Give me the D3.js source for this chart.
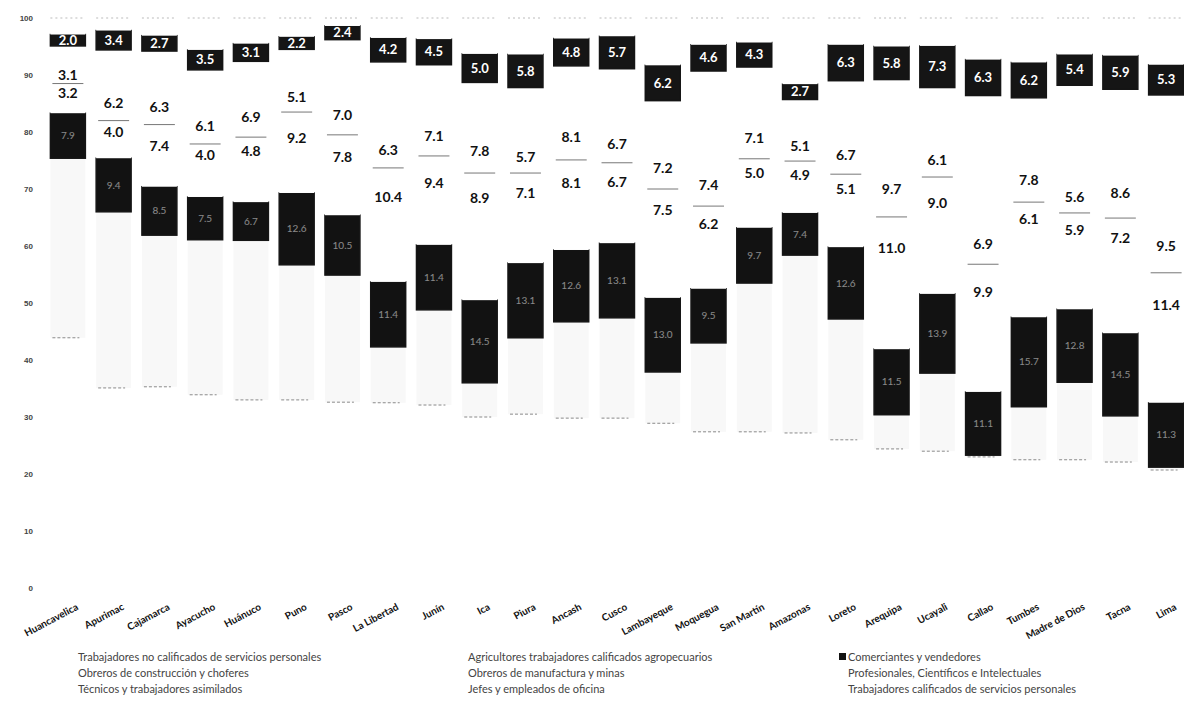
<!DOCTYPE html>
<html>
<head>
<meta charset="utf-8">
<script src="https://cdn.jsdelivr.net/npm/d3@7"></script>
<style>
  body { margin: 0; background: #fff; }
  svg { display: block; font-family: Lato, "Open Sans", sans-serif; }
</style>
</head>
<body>
<div id="chart"></div>
<script>
// regions, ordered as in the picture
const regions = ['Huancavelica', 'Apurimac', 'Cajamarca', 'Ayacucho', 'Huánuco', 'Puno', 'Pasco',
  'La Libertad', 'Junín', 'Ica', 'Piura', 'Ancash', 'Cusco', 'Lambayeque', 'Moquegua', 'San Martín',
  'Amazonas', 'Loreto', 'Arequipa', 'Ucayali', 'Callao', 'Tumbes', 'Madre de Dios', 'Tacna', 'Lima'];

// shares (%) per occupational group, bottom to top of each bar
const noCalificados = [43.9, 35.1, 35.3, 33.9, 33.0, 33.0, 32.6, 32.5, 32.1, 30.0, 30.5, 29.8, 29.8, 28.9, 27.4, 27.4, 27.2, 26.0, 24.4, 24.0, 23.0, 22.5, 22.5, 22.1, 20.7];
const agricultores = [31.5, 30.9, 26.6, 27.2, 28.0, 23.7, 22.3, 9.8, 16.7, 6.0, 13.4, 16.9, 17.6, 9.0, 15.6, 26.1, 31.2, 21.2, 6.0, 13.7, 0.3, 9.3, 13.6, 8.1, 0.5];
const comerciantes = [7.9, 9.4, 8.5, 7.5, 6.7, 12.6, 10.5, 11.4, 11.4, 14.5, 13.1, 12.6, 13.1, 13.0, 9.5, 9.7, 7.4, 12.6, 11.5, 13.9, 11.1, 15.7, 12.8, 14.5, 11.3];
const obrerosConstruccion = [2.0, 2.6, 3.5, 5.3, 6.6, 5.0, 6.3, 9.6, 6.2, 13.4, 8.7, 7.7, 7.4, 11.6, 8.3, 7.1, 4.2, 7.7, 12.2, 11.5, 12.5, 14.1, 11.0, 13.0, 11.4];
const profesionales = [3.2, 4.0, 7.4, 4.0, 4.8, 9.2, 7.8, 10.4, 9.4, 8.9, 7.1, 8.1, 6.7, 7.5, 6.2, 5.0, 4.9, 5.1, 11.0, 9.0, 9.9, 6.1, 5.9, 7.2, 11.4];
const tecnicos = [3.1, 6.2, 6.3, 6.1, 6.9, 5.1, 7.0, 6.3, 7.1, 7.8, 5.7, 8.1, 6.7, 7.2, 7.4, 7.1, 5.1, 6.7, 9.7, 6.1, 6.9, 7.8, 5.6, 8.6, 9.5];
const obrerosManufactura = [3.5, 6.2, 6.6, 6.9, 6.4, 5.9, 9.7, 12.3, 8.9, 8.1, 9.3, 8.4, 9.8, 8.3, 16.3, 9.0, 5.7, 9.7, 14.4, 9.6, 22.7, 10.5, 16.8, 14.0, 21.7];
const jefes = [2.0, 3.4, 2.7, 3.5, 3.1, 2.2, 2.4, 4.2, 4.5, 5.0, 5.8, 4.8, 5.7, 6.2, 4.6, 4.3, 2.7, 6.3, 5.8, 7.3, 6.3, 6.2, 5.4, 5.9, 5.3];
const trabCalificados = [2.9, 2.2, 3.1, 5.6, 4.5, 3.3, 1.4, 3.5, 3.7, 6.3, 6.4, 3.6, 3.2, 8.3, 4.7, 4.3, 11.6, 4.7, 5.0, 4.9, 7.3, 7.8, 6.4, 6.6, 8.2];

const yTicks = [0, 10, 20, 30, 40, 50, 60, 70, 80, 90, 100];

// legend text, in the three columns of the picture
const legendCols = [
  ['Trabajadores no calificados de servicios personales', 'Obreros de construcción y choferes', 'Técnicos y trabajadores asimilados'],
  ['Agricultores trabajadores calificados agropecuarios', 'Obreros de manufactura y minas', 'Jefes y empleados de oficina'],
  ['Comerciantes y vendedores', 'Profesionales, Científicos e Intelectuales', 'Trabajadores calificados de servicios personales']
];

const keys = ['noCalificados', 'agricultores', 'comerciantes', 'obrerosConstruccion', 'profesionales',
  'tecnicos', 'obrerosManufactura', 'jefes', 'trabCalificados'];
const seriesData = {noCalificados, agricultores, comerciantes, obrerosConstruccion, profesionales,
  tecnicos, obrerosManufactura, jefes, trabCalificados};

const rows = regions.map((r, i) => {
  let o = {region: r};
  keys.forEach(k => { o[k] = seriesData[k][i]; });
  return o;
});

const W = 1184, H = 727;

let xScale = d3.scaleBand()
  .domain(regions)
  .range([45, 1189])
  .paddingInner(0.236)
  .paddingOuter(0.118);

let yScale = d3.scaleLinear()
  .domain([0, 100])
  .range([588, 18]);

let colorScale = d3.scaleOrdinal()
  .domain(keys)
  .range(['#ffffff', '#f8f8f8', '#121212', '#ffffff', '#ffffff', '#ffffff', '#ffffff', '#151515', '#ffffff']);

const stacked = d3.stack().keys(keys)(rows);

let svg = d3.select('#chart').append('svg')
  .attr('width', W)
  .attr('height', H);

svg.append('rect').attr('width', W).attr('height', H).attr('fill', '#fff');

// y axis: labels only
let yAxis = svg.append('g')
  .attr('transform', 'translate(37,0)')
  .call(d3.axisLeft(yScale).tickValues(yTicks).tickSize(0).tickPadding(4));
yAxis.select('.domain').remove();
yAxis.selectAll('text')
  .attr('fill', '#444')
  .style('font-size', '8px')
  .style('font-weight', 'bold');

// bars
const layers = svg.append('g').selectAll('g')
  .data(stacked)
  .enter()
  .append('g')
  .attr('fill', d => colorScale(d.key));

layers.selectAll('rect')
  .data(d => d)
  .enter()
  .append('rect')
  .attr('x', d => xScale(d.data.region))
  .attr('y', d => yScale(d[1]))
  .attr('width', xScale.bandwidth())
  .attr('height', d => yScale(d[0]) - yScale(d[1]));

// scanned black blocks look a bit heavier than their value
layers.filter(d => d.key === 'jefes' || d.key === 'comerciantes')
  .selectAll('rect')
  .attr('stroke', '#151515')
  .attr('stroke-width', 1.5);

const bw = xScale.bandwidth();
const byKey = {};
stacked.forEach(s => { byKey[s.key] = s; });

// faint edge at the bottom of the light grey block
svg.append('g').selectAll('line')
  .data(byKey.agricultores)
  .enter()
  .append('line')
  .attr('x1', d => xScale(d.data.region) + 2)
  .attr('x2', d => xScale(d.data.region) + bw - 6)
  .attr('y1', d => yScale(d[0]))
  .attr('y2', d => yScale(d[0]))
  .attr('stroke', '#8a8a8a')
  .attr('stroke-width', 1)
  .attr('stroke-dasharray', '3,2');

// dashed top edge of each bar
svg.append('g').selectAll('line')
  .data(byKey.trabCalificados)
  .enter()
  .append('line')
  .attr('x1', d => xScale(d.data.region))
  .attr('x2', d => xScale(d.data.region) + bw)
  .attr('y1', d => yScale(d[1]))
  .attr('y2', d => yScale(d[1]))
  .attr('stroke', '#bbb')
  .attr('stroke-width', 1)
  .attr('stroke-dasharray', '2,3');

// thin line between profesionales and tecnicos
svg.append('g').selectAll('line')
  .data(byKey.profesionales)
  .enter()
  .append('line')
  .attr('x1', d => xScale(d.data.region) + 2)
  .attr('x2', d => xScale(d.data.region) + bw - 2)
  .attr('y1', d => yScale(d[1]))
  .attr('y2', d => yScale(d[1]))
  .attr('stroke', '#777')
  .attr('stroke-width', 1);

// bold value labels
function labelSeries(key, fill, size, weight, opacity) {
  svg.append('g').selectAll('text')
    .data(byKey[key])
    .enter()
    .append('text')
    .attr('x', d => xScale(d.data.region) + bw / 2)
    .attr('y', d => yScale((d[0] + d[1]) / 2))
    .attr('dy', '0.35em')
    .attr('text-anchor', 'middle')
    .attr('fill', fill)
    .attr('opacity', opacity)
    .style('font-size', size)
    .style('font-weight', weight)
    .text(d => d.data[key].toFixed(1));
}
labelSeries('profesionales', '#111', '14px', 'bold', 1);
labelSeries('tecnicos', '#111', '14px', 'bold', 1);
labelSeries('jefes', '#fff', '13px', 'bold', 1);
labelSeries('comerciantes', '#fff', '10px', 'normal', 0.5);

// category labels
svg.append('g').selectAll('text')
  .data(regions)
  .enter()
  .append('text')
  .attr('transform', d => 'translate(' + (xScale(d) + bw / 2 + 11) + ',609) rotate(-28)')
  .attr('text-anchor', 'end')
  .attr('fill', '#111')
  .style('font-size', '10px')
  .style('font-weight', 'bold')
  .text(d => d);

// legend
const legendX = [78, 468, 848];
const legendY = [661, 677, 693];
legendCols.forEach((col, ci) => {
  col.forEach((t, ri) => {
    if (t === 'Comerciantes y vendedores') {
      svg.append('rect')
        .attr('x', legendX[ci] - 9).attr('y', legendY[ri] - 8)
        .attr('width', 7).attr('height', 7)
        .attr('fill', colorScale('comerciantes'));
    }
    svg.append('text')
      .attr('x', legendX[ci])
      .attr('y', legendY[ri])
      .attr('fill', '#444')
      .style('font-size', '11px')
      .text(t);
  });
});
</script>
</body>
</html>
